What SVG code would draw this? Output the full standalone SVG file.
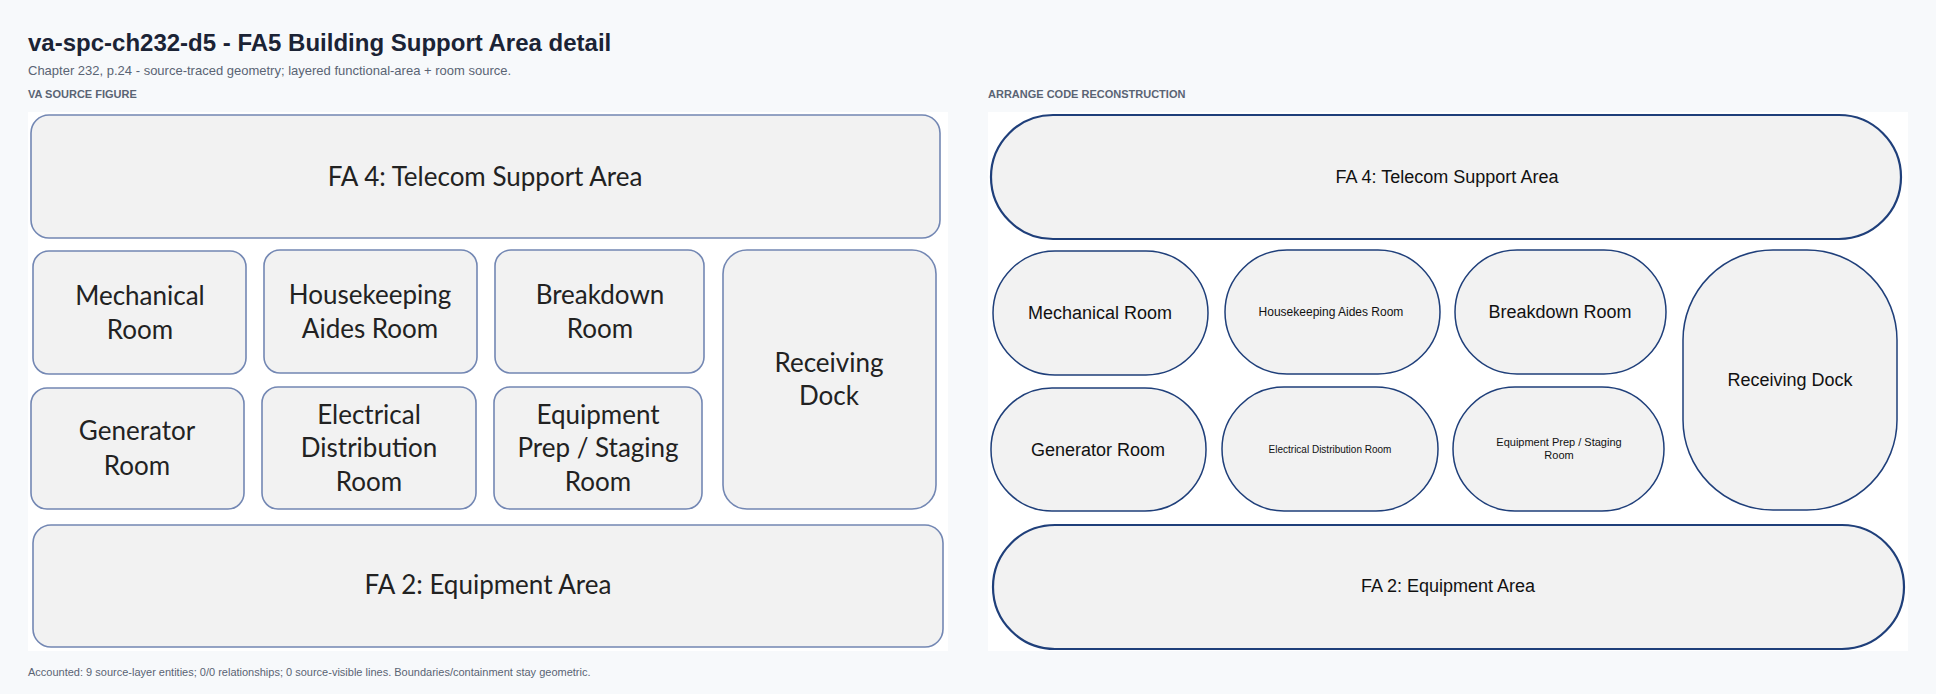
<svg xmlns="http://www.w3.org/2000/svg" width="1936" height="694" viewBox="0 0 1936 694">
<style>
.t{font-family:"Liberation Sans",Arial,sans-serif}
.src rect{fill:#f2f2f2;stroke:#7387b3;stroke-width:1.6}
.src text{font-family:Lato,"Open Sans",sans-serif;font-size:26px;fill:#222;text-anchor:middle}
.rec rect{fill:#f2f2f2;stroke:#1f3f7a;stroke-width:1.5}
.rec rect.fa{stroke-width:2.2}
.rec text{font-family:"Liberation Sans",Arial,sans-serif;fill:#111;text-anchor:middle}
</style>
<rect width="1936" height="694" fill="#f7f9fb"/>
<text class="t" x="28" y="51" font-size="24" font-weight="bold" fill="#1b2335">va-spc-ch232-d5 - FA5 Building Support Area detail</text>
<text class="t" x="28" y="75" font-size="13" fill="#5a6474">Chapter 232, p.24 - source-traced geometry; layered functional-area + room source.</text>
<text class="t" x="28" y="98" font-size="11" font-weight="bold" fill="#5a6474">VA SOURCE FIGURE</text>
<text class="t" x="988" y="98" font-size="11" font-weight="bold" fill="#5a6474">ARRANGE CODE RECONSTRUCTION</text>
<text class="t" x="28" y="676" font-size="11" fill="#5a6474">Accounted: 9 source-layer entities; 0/0 relationships; 0 source-visible lines. Boundaries/containment stay geometric.</text>
<rect x="28" y="112" width="920" height="539" fill="#fff"/>
<rect x="988" y="112" width="920" height="539" fill="#fff"/>
<g class="src">
<g id="s-fa4"><rect x="31" y="115" width="909" height="123" rx="18"/><text x="485" y="186">FA 4:  Telecom Support Area</text></g>
<g id="s-mech"><rect x="33" y="251" width="213" height="123" rx="16"/><text x="140" y="305">Mechanical</text><text x="140" y="339">Room</text></g>
<g id="s-hk"><rect x="264" y="250" width="213" height="123" rx="16"/><text x="370" y="304">Housekeeping</text><text x="370" y="338">Aides Room</text></g>
<g id="s-bd"><rect x="495" y="250" width="209" height="123" rx="16"/><text x="600" y="304">Breakdown</text><text x="600" y="338">Room</text></g>
<g id="s-rd"><rect x="723" y="250" width="213" height="259" rx="24"/><text x="829" y="372">Receiving</text><text x="829" y="405">Dock</text></g>
<g id="s-gen"><rect x="31" y="388" width="213" height="121" rx="16"/><text x="137" y="440">Generator</text><text x="137" y="475">Room</text></g>
<g id="s-el"><rect x="262" y="387" width="214" height="122" rx="16"/><text x="369" y="424">Electrical</text><text x="369" y="457">Distribution</text><text x="369" y="491">Room</text></g>
<g id="s-ep"><rect x="494" y="387" width="208" height="122" rx="16"/><text x="598" y="424">Equipment</text><text x="598" y="457">Prep / Staging</text><text x="598" y="491">Room</text></g>
<g id="s-fa2"><rect x="33" y="525" width="910" height="122" rx="18"/><text x="488" y="594">FA 2:  Equipment Area</text></g>
</g>
<g class="rec">
<g id="fa4"><rect class="fa" x="991" y="115" width="910" height="124" rx="62"/><text x="1447" y="183" font-size="18">FA 4: Telecom Support Area</text></g>
<g id="mech"><rect x="993" y="251" width="215" height="124" rx="62"/><text x="1100" y="319" font-size="18">Mechanical Room</text></g>
<g id="hk"><rect x="1225" y="250" width="215" height="124" rx="62"/><text x="1331" y="316" font-size="12">Housekeeping Aides Room</text></g>
<g id="bd"><rect x="1455" y="250" width="211" height="124" rx="62"/><text x="1560" y="318" font-size="18">Breakdown Room</text></g>
<g id="rd"><rect x="1683" y="250" width="214" height="260" rx="90"/><text x="1790" y="386" font-size="18">Receiving Dock</text></g>
<g id="gen"><rect x="991" y="388" width="215" height="123" rx="61"/><text x="1098" y="456" font-size="18">Generator Room</text></g>
<g id="el"><rect x="1222" y="387" width="216" height="124" rx="62"/><text x="1330" y="453" font-size="10">Electrical Distribution Room</text></g>
<g id="ep"><rect x="1453" y="387" width="211" height="124" rx="62"/><text x="1559" y="446" font-size="11">Equipment Prep / Staging</text><text x="1559" y="459" font-size="11">Room</text></g>
<g id="fa2"><rect class="fa" x="993" y="525" width="911" height="124" rx="62"/><text x="1448" y="592" font-size="18">FA 2: Equipment Area</text></g>
</g>
<g id="connectors"/>
</svg>
